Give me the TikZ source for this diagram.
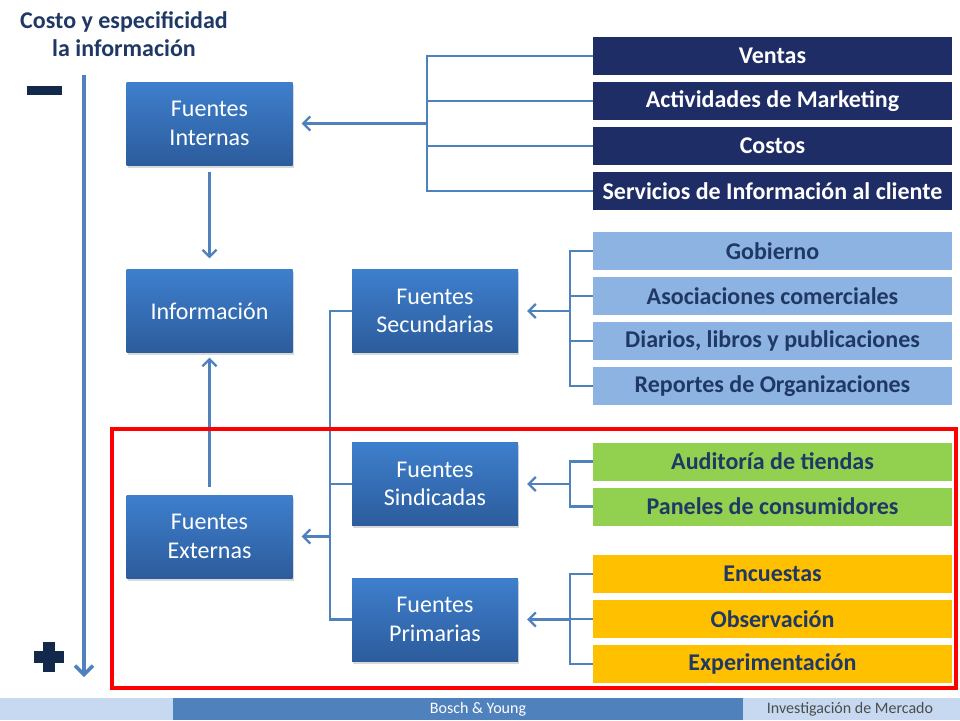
\documentclass[tikz,border=0pt]{standalone}
\usepackage{fontspec}
\setmainfont{Carlito}
\usepackage{tikz}
\usetikzlibrary{arrows.meta, positioning, shadows, calc}
\definecolor{navybar}{HTML}{1F2D66}
\definecolor{navytext}{HTML}{1F3864}
\definecolor{navymark}{HTML}{13294B}
\definecolor{stepblue}{HTML}{4F81BD}
\definecolor{lightbar}{HTML}{8DB3E2}
\definecolor{greenbar}{HTML}{92D050}
\definecolor{yellowbar}{HTML}{FFC000}
\definecolor{footlight}{HTML}{C6D9F1}
\definecolor{boxtop}{HTML}{3E7FCD}
\definecolor{boxbot}{HTML}{2C5C9C}

\begin{document}
\begin{tikzpicture}[x=1pt, y=-1pt,
	fuente/.style={minimum width=166pt, minimum height=83pt, inner sep=0pt, top color=boxtop, bottom color=boxbot, text=white, align=center, font=\fontsize{24}{28.5}\selectfont, drop shadow={opacity=0.3, shadow xshift=1pt, shadow yshift=-2.5pt}},
	bar/.style={minimum width=359pt, minimum height=38pt, inner sep=0pt, text=navytext, font=\bfseries\fontsize{24}{28}\selectfont},
	conn/.style={stepblue, line width=2.2pt},
	arr/.style={conn, -{Straight Barb[length=7pt, width=14pt]}}]
	\useasboundingbox (0,0) rectangle (960,720);
	
	%% titulo y eje
	\node[font=\bfseries\fontsize{24}{28}\selectfont, text=navytext, align=center] (titulo) at (124,34) {Costo y especificidad\\la información};
	\coordinate (ejearriba) at (84,75);
	\coordinate (ejeabajo) at (84,677);
	\draw[stepblue, line width=3.5pt, -{Straight Barb[length=9pt, width=18pt]}] (ejearriba) -- (ejeabajo);
	\fill[navymark] (27,86) rectangle (62,95);
	\fill[navymark] (34,651) rectangle (64,663);
	\fill[navymark] (43,642) rectangle (55,672);
	
	%% fuentes
	\node[fuente] (internas) at (209.5,123.5) {Fuentes\\Internas};
	\node[fuente] (informacion) at (209.5,311) {Información};
	\node[fuente] (externas) at (209.5,536.5) {Fuentes\\Externas};
	\node[fuente] (secundarias) at (435,311) {Fuentes\\Secundarias};
	\node[fuente] (sindicadas) at (435,484) {Fuentes\\Sindicadas};
	\node[fuente] (primarias) at (435,619.5) {Fuentes\\Primarias};
	
	%% barras
	\node[bar, fill=navybar, text=white] (ventas) at (772.5,56) {Ventas};
	\node[bar, fill=navybar, text=white] (actividades) at (772.5,101) {Actividades de Marketing};
	\node[bar, fill=navybar, text=white] (costos) at (772.5,146) {Costos};
	\node[bar, fill=navybar, text=white] (servicios) at (772.5,191) {Servicios de Información al cliente};
	\node[bar, fill=lightbar] (gobierno) at (772.5,251) {Gobierno};
	\node[bar, fill=lightbar] (asociaciones) at (772.5,296) {Asociaciones comerciales};
	\node[bar, fill=lightbar] (diarios) at (772.5,341) {Diarios, libros y publicaciones};
	\node[bar, fill=lightbar] (reportes) at (772.5,386) {Reportes de Organizaciones};
	\node[bar, fill=greenbar] (auditoria) at (772.5,461.5) {Auditoría de tiendas};
	\node[bar, fill=greenbar] (paneles) at (772.5,506.5) {Paneles de consumidores};
	\node[bar, fill=yellowbar] (encuestas) at (772.5,574) {Encuestas};
	\node[bar, fill=yellowbar] (observacion) at (772.5,619) {Observación};
	\node[bar, fill=yellowbar] (experimentacion) at (772.5,664) {Experimentación};
	
	%% conectores
	\coordinate (llaveint) at (427,123.5);
	\draw[conn] (ventas.west) -| (llaveint) |- (servicios.west);
	\draw[conn] (actividades.west) -- (actividades.west -| llaveint);
	\draw[conn] (costos.west) -- (costos.west -| llaveint);
	\draw[arr, shorten >=9pt] (llaveint) -- (internas.east);
	
	\coordinate (llavesec) at (570,311);
	\draw[conn] (gobierno.west) -| (llavesec) |- (reportes.west);
	\draw[conn] (asociaciones.west) -- (asociaciones.west -| llavesec);
	\draw[conn] (diarios.west) -- (diarios.west -| llavesec);
	\draw[arr, shorten >=9pt] (llavesec) -- (secundarias.east);
	
	\coordinate (llavesin) at (570,484);
	\draw[conn] (auditoria.west) -| (llavesin) |- (paneles.west);
	\draw[arr, shorten >=9pt] (llavesin) -- (sindicadas.east);
	
	\coordinate (llavepri) at (570,619.5);
	\draw[conn] (encuestas.west) -| (llavepri) |- (experimentacion.west);
	\draw[conn] (observacion.west) -- (observacion.west -| llavepri);
	\draw[arr, shorten >=9pt] (llavepri) -- (primarias.east);
	
	\coordinate (llaveext) at (330,536.5);
	\draw[conn] (secundarias.west) -| (llaveext) |- (primarias.west);
	\draw[conn] (sindicadas.west) -- (sindicadas.west -| llaveext);
	\draw[arr, shorten >=9pt] (llaveext) -- (externas.east);
	
	\draw[arr, shorten <=7pt, shorten >=11pt] (internas.south) -- (informacion.north);
	\draw[arr, shorten <=8pt, shorten >=5pt] (externas.north) -- (informacion.south);
	
	%% marco y pie
	\draw[red, line width=4pt] (112,429) rectangle (956,688);
	\fill[footlight] (0,698) rectangle (960,720);
	\fill[stepblue] (173,698) rectangle (743,720);
	\node[text=white, font=\fontsize{16}{18}\selectfont] (autores) at (478,709) {Bosch \& Young};
	\node[text=black!70, font=\fontsize{16}{18}\selectfont] (curso) at (850,709) {Investigación de Mercado};
\end{tikzpicture}
\end{document}
